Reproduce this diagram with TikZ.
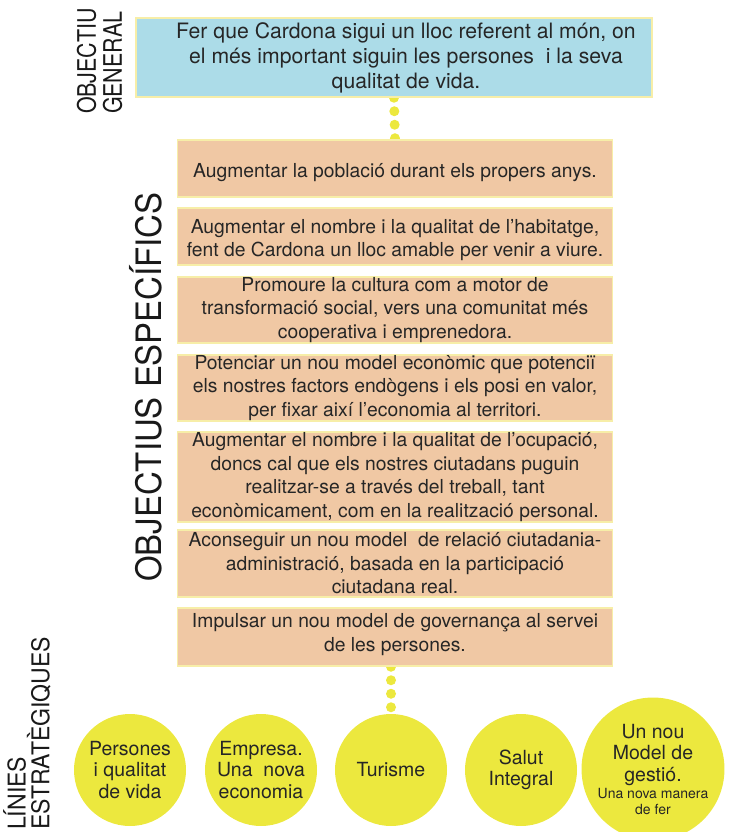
\documentclass[tikz,border=0pt]{standalone}
\usepackage{fontspec}
\setmainfont{TeX Gyre Heros}
\newfontfamily\estret[FakeStretch=0.84]{TeX Gyre Heros}
\newfontfamily\mitja[FakeStretch=0.94]{TeX Gyre Heros}
\usetikzlibrary{backgrounds}

\definecolor{blau}{RGB}{172,220,232}
\definecolor{sal}{RGB}{240,200,164}
\definecolor{groc}{RGB}{236,232,62}
\definecolor{vora}{RGB}{247,238,168}
\definecolor{lletra}{RGB}{38,38,38}

\begin{document}
\begin{tikzpicture}[x=1pt,y=-1pt,
  caixa/.style={draw=vora,line width=1.5pt,fill=sal,text=lletra,align=center,
    minimum width=435pt,inner sep=0pt,font=\fontsize{19.3}{23.5}\selectfont},
  linia/.style={circle,fill=groc,text=lletra,align=center,minimum size=112pt,
    inner sep=0pt,font=\fontsize{19.5}{21.5}\selectfont},
  titol/.style={rotate=90,align=left,text=black!90,inner sep=0pt},
  punts/.style={draw=groc,line width=10pt,line cap=round,dash pattern=on 0pt off 13.5pt}]

\useasboundingbox (0,0) rectangle (731,832);

\node[caixa,fill=blau,minimum width=516pt,minimum height=79pt] (g) at (394,57.5) {};
\node[text=lletra,align=center,inner sep=0pt,font=\fontsize{21.2}{25}\selectfont] (gt) at (406,58)
  {Fer que Cardona sigui un lloc referent al món, on\\
   el més important siguin les persones\ \ i la seva\\
   qualitat de vida.};

\node[caixa,minimum height=57pt] (e1) at (395,168.5)
  {\rule{0pt}{23pt}Augmentar la població durant els propers anys.};
\node[caixa,minimum height=57pt] (e2) at (395,236.5)
  {\rule{0pt}{21pt}Augmentar el nombre i la qualitat de l’habitatge,\\
   fent de Cardona un lloc amable per venir a viure.};
\node[caixa,minimum height=66pt] (e3) at (395,310)
  {Promoure la cultura com a motor de\\
   transformació social, vers una comunitat més\\
   cooperativa i emprenedora.};
\node[caixa,minimum height=66pt] (e4) at (395,388)
  {Potenciar un nou model econòmic que potenciï\\
   els nostres factors endògens i els posi en valor,\\
   per fixar així l’economia al territori.};
\node[caixa,minimum height=90pt] (e5) at (395,477)
  {Augmentar el nombre i la qualitat de l’ocupació,\\
   doncs cal que els nostres ciutadans puguin\\
   realitzar-se a través del treball, tant\\
   econòmicament, com en la realització personal.};
\node[caixa,minimum height=67pt] (e6) at (395,563.5)
  {Aconseguir un nou model\ \ de relació ciutadania-\\
   administració, basada en la participació\\
   ciutadana real.};
\node[caixa,minimum height=58pt] (e7) at (395,637)
  {Impulsar un nou model de governança al servei\\
   de les persones.\rule[-9pt]{0pt}{9pt}};

\node[linia] (l1) at (130,770) {Persones\\ i qualitat\\ de vida};
\node[linia] (l2) at (261,770) {Empresa.\\ Una\ \ nova\\ economia};
\node[linia] (l3) at (391,770) {Turisme};
\node[linia] (l4) at (521,770) {Salut\\ Integral};
\node[linia] (l5) at (653,769) {Un nou\\ Model de\\ gestió.\\[-4pt]
  {\fontsize{14}{15}\selectfont Una nova manera}\\[-6pt]
  {\fontsize{14}{15}\selectfont de fer}};

\node[titol,font=\estret\fontsize{25.5}{26}\selectfont] (tg) at (99.5,61) {OBJECTIU\\ GENERAL};
\node[titol,font=\mitja\fontsize{35}{36}\selectfont] (te) at (145.5,387) {OBJECTIUS ESPECÍFICS};
\node[titol,anchor=south west,font=\mitja\fontsize{24.5}{21.5}\selectfont] (tl) at (51,830)
  {LÍNIES\\ ESTRATÈGIQUES};

\begin{scope}[on background layer]
\draw[punts] (g.south) -- (e1.north);
\draw[punts] (e7.south -| l3.north) -- (l3.north);
\end{scope}

\end{tikzpicture}
\end{document}
